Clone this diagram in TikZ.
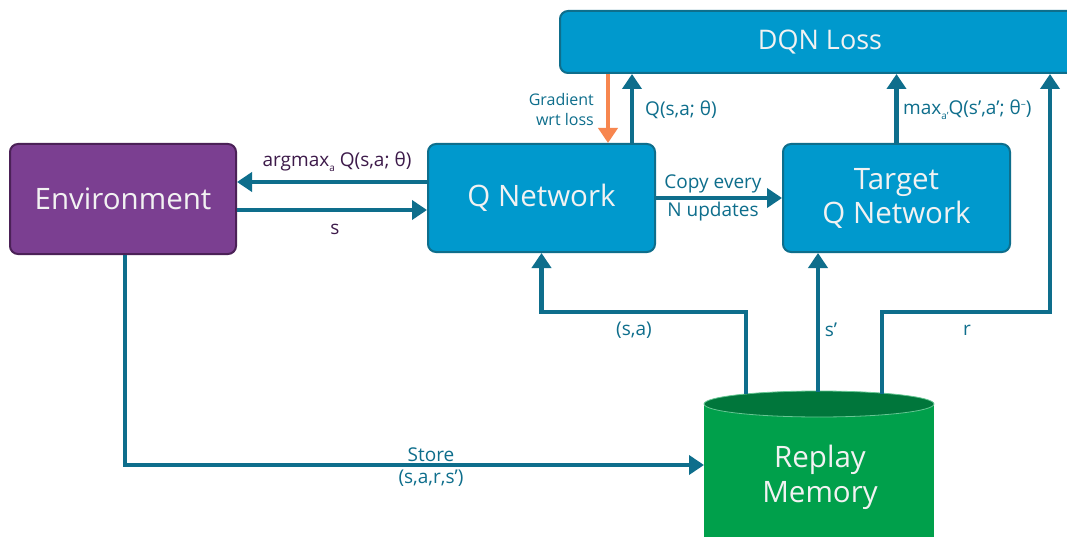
\documentclass[tikz,border=0pt]{standalone}
\usepackage{fontspec}
\setmainfont{Open Sans}
\usetikzlibrary{arrows.meta,calc}
\definecolor{envfill}{HTML}{7B3F91}
\definecolor{envline}{HTML}{4B2157}
\definecolor{boxfill}{HTML}{0099CD}
\definecolor{boxline}{HTML}{0E6E8C}
\definecolor{linec}{HTML}{0E6E8C}
\definecolor{memfill}{HTML}{00A04B}
\definecolor{memtop}{HTML}{00763B}
\definecolor{labpurple}{HTML}{3D1A4A}
\definecolor{orangec}{HTML}{F7864F}
\definecolor{boxtext}{HTML}{F2F2F2}
\begin{document}
\begin{tikzpicture}[x=1pt,y=-1pt,
  bigbox/.style={rectangle, rounded corners=8pt, line width=2pt, draw=boxline, fill=boxfill,
    text=boxtext, font=\fontsize{29.5}{34}\selectfont, align=center, inner sep=0pt},
  arr/.style={draw=linec, line width=4.5pt, -{Triangle[width=19pt,length=15pt]}},
  oarr/.style={draw=orangec, line width=4.5pt, -{Triangle[width=19pt,length=15pt]}},
  lab/.style={text=linec, font=\fontsize{19}{23}\selectfont, inner sep=0pt, align=center},
  smlab/.style={text=linec, font=\fontsize{16}{20}\selectfont, inner sep=0pt, align=right},
]
\useasboundingbox (0,0) rectangle (1067,537);
\clip (0,0) rectangle (1067,537);
\fill[white] (0,0) rectangle (1067,537);

% boxes
\node[bigbox, draw=envline, fill=envfill, minimum width=226pt, minimum height=110pt] (env) at (123,199) {Environment};
\node[bigbox, minimum width=227pt, minimum height=108pt] (qnet) at (541.5,198) {Q Network};
\node[bigbox, minimum width=227pt, minimum height=108pt] (tq) at (896.5,198) {Target\\Q Network};
\node[bigbox, minimum width=520pt, minimum height=62pt, font=\fontsize{27}{31}\selectfont] (loss) at (820,42) {DQN Loss};

% replay memory cylinder
\fill[memfill] (704,404) rectangle (934,560);
\filldraw[fill=memtop, draw=memfill!60!white, line width=0.8pt] (819,404) ellipse[x radius=115pt, y radius=13pt];
\node[text=boxtext, font=\fontsize{29.5}{35}\selectfont, align=center, inner sep=0pt, minimum width=230pt, minimum height=120pt] (mem) at (820,477) {Replay\\Memory};

% anchor coordinates on the memory top
\coordinate (sastart) at (746,394);
\coordinate (spstart) at (818,392);
\coordinate (rstart) at (882,394);
\coordinate (saturn) at (541.5,312);
\coordinate (rturn) at (1050,312);
\coordinate (memin) at (704,465);

% connectors
\draw[arr] ([yshift=16pt]qnet.west) -- ([yshift=16pt]qnet.west -| env.east);
\draw[arr] ([yshift=-11pt]env.east) -- ([yshift=-11pt]env.east -| qnet.west);
\draw[arr] (qnet.east) -- (tq.west);
\draw[oarr] (loss.south -| 608,0) -- (qnet.north -| 608,0);
\draw[arr] (qnet.north -| 632,0) -- (loss.south -| 632,0);
\draw[arr] (tq.north) -- (tq.north |- loss.south);
\draw[arr] (rstart) |- (rturn) -- (rturn |- loss.south);
\draw[arr] (spstart) -- (spstart |- tq.south);
\draw[arr] (sastart) |- (saturn) -- (qnet.south);
\draw[arr] ([xshift=2pt]env.south) |- (memin);

% labels
\node[lab, text=labpurple] (largmax) at (337,162) {argmax\raisebox{-0.5ex}{\fontsize{10}{12}\selectfont a} Q(s,a; θ)};
\node[lab, text=labpurple] (ls) at (335,229) {s};
\node[lab, anchor=base] (lcopy) at (713,189) {Copy every};
\node[lab, anchor=base] (lnup) at (713,217) {N updates};
\node[smlab, anchor=east] (lgrad) at (594,110) {Gradient\\wrt loss};
\node[lab, anchor=west] (lq) at (645,110) {Q(s,a; θ)};
\node[lab, anchor=west] (lmax) at (903,110) {max\raisebox{-0.5ex}{\fontsize{10}{12}\selectfont a’}Q(s’,a’; θ\raisebox{0.7ex}{\fontsize{10}{12}\selectfont –})};
\node[lab] (lsa) at (634,330) {(s,a)};
\node[lab] (lsp) at (831,330) {s’};
\node[lab] (lr) at (967,330) {r};
\node[lab] (lstore) at (431,455) {Store};
\node[lab] (ltuple) at (431,478) {(s,a,r,s’)};
\end{tikzpicture}
\end{document}
